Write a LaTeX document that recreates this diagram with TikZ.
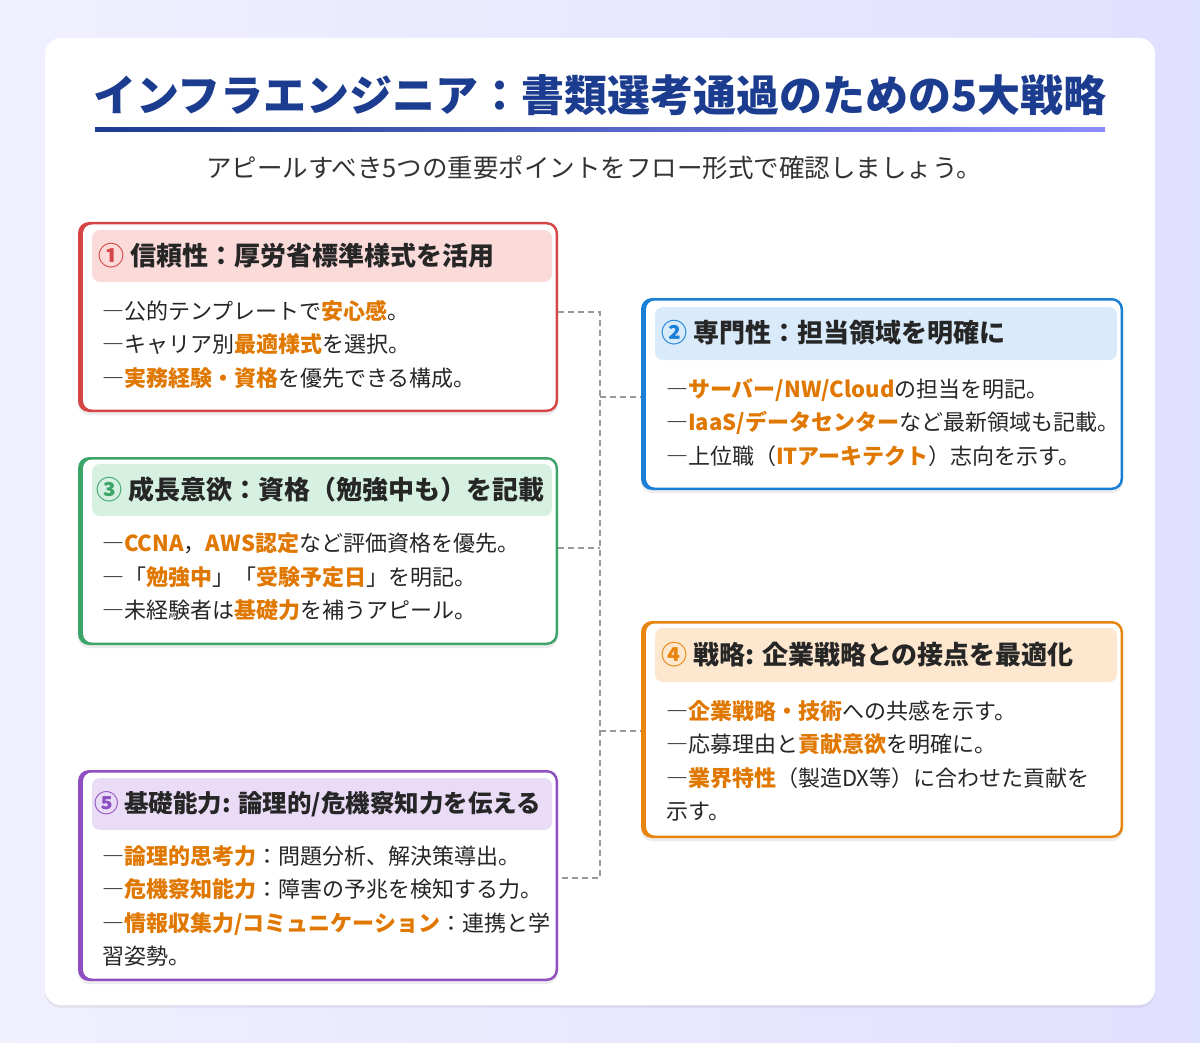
\documentclass[tikz,border=0pt]{standalone}
\usepackage{fontspec}
\setmainfont{Noto Sans CJK JP}
\usetikzlibrary{shadows}
\definecolor{hl}{HTML}{E07800}
\definecolor{cred}{HTML}{D64545}\definecolor{lred}{HTML}{FBDADA}
\definecolor{cblue}{HTML}{1A7FD6}\definecolor{lblue}{HTML}{D9EBFB}
\definecolor{cgreen}{HTML}{3DA56A}\definecolor{lgreen}{HTML}{D6F1E1}
\definecolor{corange}{HTML}{E8850E}\definecolor{lorange}{HTML}{FDE7CF}
\definecolor{cpurple}{HTML}{8E4FC0}\definecolor{lpurple}{HTML}{EADCF7}
\definecolor{navy}{HTML}{1B3C8F}
\newcommand{\h}[1]{\textcolor{hl}{\bfseries #1}}
\tikzset{
 body/.style={anchor=north west,align=left,inner sep=0pt,font=\fontsize{22}{33.5}\selectfont,text=black!85},
 head/.style={anchor=west,inner sep=0pt,font=\fontsize{26}{30}\selectfont\bfseries,text=black!85},
 conn/.style={draw=gray!80,line width=1.6pt,dash pattern=on 6pt off 4pt}
}
\newcommand{\card}[7]{% name,col,light,x1,y1,x2,y2
 \fill[#2,rounded corners=11pt,drop shadow={opacity=0.15,shadow xshift=0pt,shadow yshift=-3pt}] (#4,#5) rectangle (#6,#7);
 \fill[white,rounded corners=9pt] (#4+5,#5+2.5) rectangle (#6-2.5,#7-2.5);
}
\begin{document}
\begin{tikzpicture}[x=1pt,y=-1pt]
\useasboundingbox (0,0) rectangle (1200,1043);
\shade[left color=blue!6!white,right color=blue!12!white] (0,0) rectangle (1200,1043);
\fill[white,rounded corners=16pt,drop shadow={opacity=0.12,shadow xshift=0pt,shadow yshift=-3pt}] (45,38) rectangle (1155,1005);
\node[font=\fontsize{43}{48}\selectfont\bfseries,text=navy] (title) at (600,95) {インフラエンジニア：書類選考通過のための5大戦略};
\shade[left color=navy,right color=blue!45!white] (95,128) rectangle (1105,132);
\node[font=\fontsize{25.5}{30}\selectfont,text=black!80] (sub) at (594,168) {アピールすべき5つの重要ポイントをフロー形式で確認しましょう。};

\card{r}{cred}{lred}{78}{222}{558}{412}
\fill[lred,rounded corners=8pt] (92,230) rectangle (552,282);
\node[head] (rh) at (98,256) {\textcolor{cred}{①} 信頼性：厚労省標準様式を活用};
\node[body] (rb) at (102,300) {―公的テンプレートで\h{安心感}。\\―キャリア別\h{最適様式}を選択。\\―\h{実務経験・資格}を優先できる構成。};

\card{b}{cblue}{lblue}{641}{298}{1123}{490}
\fill[lblue,rounded corners=8pt] (655,307) rectangle (1117,360);
\node[head] (bh) at (661,333) {\textcolor{cblue}{②} 専門性：担当領域を明確に};
\node[body] (bb) at (666,378) {―\h{サーバー/NW/Cloud}の担当を明記。\\―\h{IaaS/データセンター}など最新領域も記載。\\―上位職（\h{ITアーキテクト}）志向を示す。};

\card{g}{cgreen}{lgreen}{78}{457}{558}{645}
\fill[lgreen,rounded corners=8pt] (92,464) rectangle (552,516);
\node[head] (gh) at (96,490) {\textcolor{cgreen}{③} 成長意欲：資格（勉強中も）を記載};
\node[body] (gb) at (102,533) {―\h{CCNA}，\h{AWS認定}など評価資格を優先。\\―「\h{勉強中}」「\h{受験予定日}」を明記。\\―未経験者は\h{基礎力}を補うアピール。};

\card{o}{corange}{lorange}{641}{621}{1123}{838}
\fill[lorange,rounded corners=8pt] (655,628) rectangle (1117,682);
\node[head] (oh) at (661,655) {\textcolor{corange}{④} 戦略: 企業戦略との接点を最適化};
\node[body] (ob) at (666,700) {―\h{企業戦略・技術}への共感を示す。\\―応募理由と\h{貢献意欲}を明確に。\\―\h{業界特性}（製造DX等）に合わせた貢献を\\示す。};

\card{p}{cpurple}{lpurple}{78}{770}{558}{981}
\fill[lpurple,rounded corners=8pt] (92,778) rectangle (552,830);
\node[head,font=\fontsize{24.5}{30}\selectfont\bfseries] (ph) at (94,804) {\textcolor{cpurple}{⑤} 基礎能力: 論理的/危機察知力を伝える};
\node[body] (pb) at (102,845) {―\h{論理的思考力}：問題分析、解決策導出。\\―\h{危機察知能力}：障害の予兆を検知する力。\\―\h{情報収集力/コミュニケーション}：連携と学\\習姿勢。};

\coordinate (t1) at (600,312);
\coordinate (t2) at (600,878);
\draw[conn] (558,312) -- (t1) -- (t2) -- (558,878);
\draw[conn] (558,548) -- (600,548);
\draw[conn] (600,397) -- (641,397);
\draw[conn] (600,731) -- (641,731);
\end{tikzpicture}
\end{document}
